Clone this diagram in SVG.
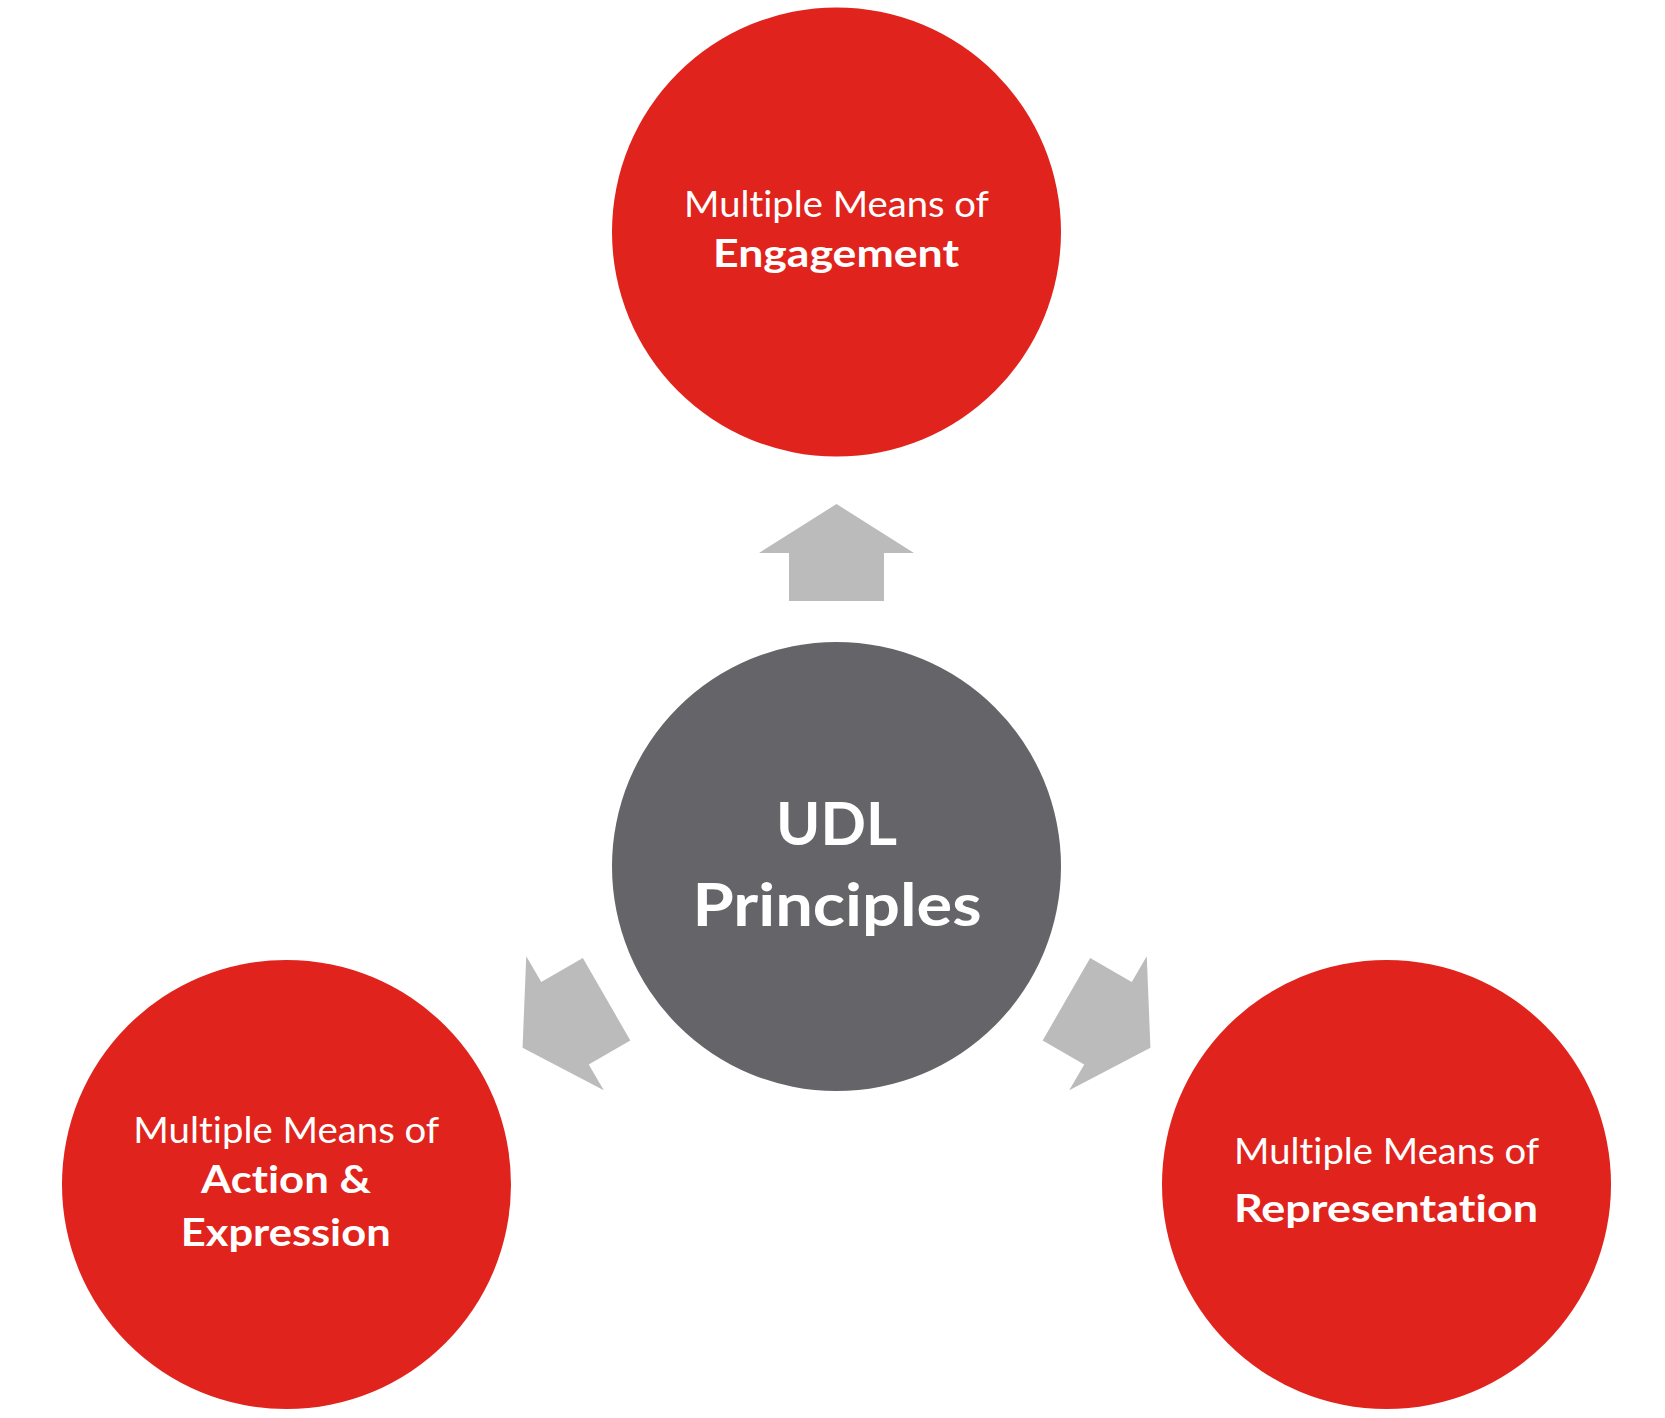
<svg xmlns="http://www.w3.org/2000/svg" xmlns:xlink="http://www.w3.org/1999/xlink" width="1665" height="1418" viewBox="0 0 1665 1418">
  <style>
    .red { fill: #E0231C; }
    .grey { fill: #656569; }
    .arrow { fill: #BBBBBB; }
    text { fill: #FFFFFF; font-family: Lato, "Open Sans", "Liberation Sans", sans-serif; text-anchor: middle; font-variant-ligatures: none; font-feature-settings: "liga" 0, "clig" 0; }
    .reg { font-size: 36px; font-weight: 400; }
    .bold { font-size: 38px; font-weight: 700; }
    .big { font-size: 60px; font-weight: 700; }
  </style>
  <defs>
    <polygon id="arr" points="836.5,504 759,553 789,553 789,601 884,601 884,553 914,553"/>
  </defs>
  <rect width="1665" height="1418" fill="#FFFFFF"/>
  <g id="connectors">
    <use xlink:href="#arr" class="arrow"/>
    <use xlink:href="#arr" class="arrow" transform="rotate(-120 836.5 866.5)"/>
    <use xlink:href="#arr" class="arrow" transform="rotate(120 836.5 866.5)"/>
  </g>
  <g id="center">
    <circle class="grey" cx="836.5" cy="866.5" r="224.5"/>
    <text class="big" x="836.5" y="845" textLength="121" lengthAdjust="spacingAndGlyphs">UDL</text>
    <text class="big" x="837" y="925.7" textLength="289" lengthAdjust="spacingAndGlyphs">Principles</text>
  </g>
  <g id="engagement">
    <circle class="red" cx="836.5" cy="232" r="224.5"/>
    <text class="reg" x="836.5" y="216.7" textLength="305" lengthAdjust="spacingAndGlyphs">Multiple Means of</text>
    <text class="bold" x="836" y="266.7" textLength="246" lengthAdjust="spacingAndGlyphs">Engagement</text>
  </g>
  <g id="action">
    <circle class="red" cx="286.5" cy="1184.5" r="224.5"/>
    <text class="reg" x="286.3" y="1142.7" textLength="306" lengthAdjust="spacingAndGlyphs">Multiple Means of</text>
    <text class="bold" x="286" y="1193.3" textLength="170" lengthAdjust="spacingAndGlyphs">Action &amp;</text>
    <text class="bold" x="285.7" y="1246" textLength="210" lengthAdjust="spacingAndGlyphs">Expression</text>
  </g>
  <g id="representation">
    <circle class="red" cx="1386.5" cy="1184.5" r="224.5"/>
    <text class="reg" x="1386.6" y="1164.3" textLength="305" lengthAdjust="spacingAndGlyphs">Multiple Means of</text>
    <text class="bold" x="1386" y="1221.7" textLength="304" lengthAdjust="spacingAndGlyphs">Representation</text>
  </g>
</svg>
